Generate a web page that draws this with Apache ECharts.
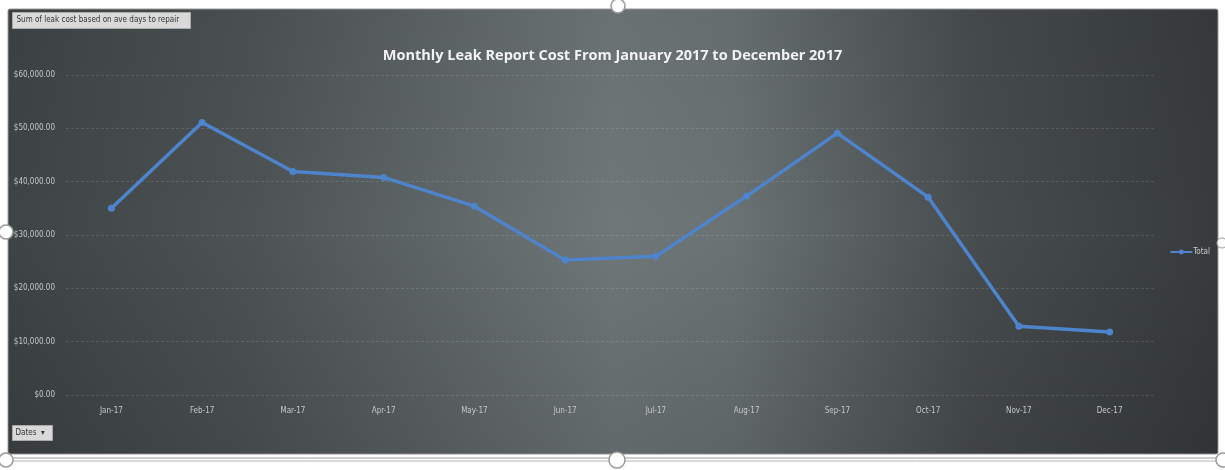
<!DOCTYPE html>
<html>
<head>
<meta charset="utf-8">
<script src="https://cdn.jsdelivr.net/npm/echarts@6/dist/echarts.min.js"></script>
<style>
html,body{margin:0;padding:0;background:#fff;}
#chart{width:1225px;height:470px;}
</style>
</head>
<body>
<div id="chart"></div>
<script>
const categories = ['Jan-17','Feb-17','Mar-17','Apr-17','May-17','Jun-17','Jul-17','Aug-17','Sep-17','Oct-17','Nov-17','Dec-17'];
const totals = [35000, 51100, 41900, 40800, 35400, 25300, 26000, 37300, 49100, 37100, 12900, 11800];
const yTicks = [0, 10000, 20000, 30000, 40000, 50000, 60000];

const chart = echarts.init(document.getElementById('chart'));
const labelFont = '"Liberation Sans Narrow","DejaVu Sans Condensed","Liberation Sans",sans-serif';

function fmt(v){
  return '$' + v.toLocaleString('en-US',{minimumFractionDigits:2,maximumFractionDigits:2});
}

chart.setOption({
  backgroundColor: '#ffffff',
  animation: false,
  title: {
    text: 'Monthly Leak Report Cost From January 2017 to December 2017',
    left: 'center',
    top: 43,
    textStyle: { color: '#f2f2f2', fontSize: 14.5, fontWeight: 'bold', fontFamily: '"Open Sans",sans-serif' }
  },
  legend: {
    data: ['Total'],
    right: 10,
    top: 243,
    itemWidth: 22,
    itemHeight: 6,
    itemGap: 2,
    textStyle: { color: '#c8cccd', fontSize: 8, fontFamily: labelFont, padding: [0,0,0,-4] }
  },
  grid: { left: 66, right: 70, top: 75, bottom: 75 },
  xAxis: {
    type: 'category',
    data: categories,
    boundaryGap: true,
    axisLine: { show: false },
    axisTick: { show: false },
    axisLabel: { color: '#c4c8c9', fontSize: 8, fontFamily: labelFont, margin: 12 }
  },
  yAxis: {
    type: 'value',
    min: yTicks[0],
    max: yTicks[yTicks.length-1],
    interval: 10000,
    axisLine: { show: false },
    axisTick: { show: false },
    axisLabel: { color: '#c4c8c9', fontSize: 8, fontFamily: labelFont, margin: 11, formatter: fmt },
    splitLine: { lineStyle: { color: 'rgba(255,255,255,0.12)', width: 1, type: [3, 2] } }
  },
  series: [{
    name: 'Total',
    type: 'line',
    data: totals,
    symbol: 'circle',
    symbolSize: 7,
    lineStyle: { color: '#4d84cc', width: 3.5 },
    itemStyle: { color: '#4d84cc' }
  }],
  graphic: [
    {
      type: 'rect', silent: true, z: -100,
      shape: { x: 8, y: 9, width: 1210, height: 445, r: 2 },
      style: {
        fill: new echarts.graphic.LinearGradient(0, 0, 1, 0, [
          { offset: 0, color: '#3e4345' },
          { offset: 0.2, color: '#4d5355' },
          { offset: 0.5, color: '#6f7779' },
          { offset: 0.6, color: '#6a7274' },
          { offset: 0.8, color: '#474c4e' },
          { offset: 1, color: '#373b3d' }
        ]),
        stroke: '#9a9a9a', lineWidth: 1
      }
    },
    {
      type: 'rect', silent: true, z: -50,
      shape: { x: 8, y: 9, width: 1210, height: 445 },
      style: {
        fill: new echarts.graphic.LinearGradient(0, 0, 0, 1, [
          { offset: 0, color: 'rgba(0,0,0,0.05)' },
          { offset: 0.5, color: 'rgba(0,0,0,0)' },
          { offset: 1, color: 'rgba(0,0,0,0.12)' }
        ])
      }
    },
    {
      type: 'group', left: 12, top: 12,
      children: [
        { type: 'rect', shape: { x: 0, y: 0, width: 178, height: 16 }, style: { fill: '#d9d9d9', stroke: '#aaaaaa', lineWidth: 1 } },
        { type: 'text', x: 4, y: 3, style: { text: 'Sum of leak cost based on ave days to repair', fill: '#333', font: '8px ' + labelFont } }
      ]
    },
    {
      type: 'group', left: 12, top: 425,
      children: [
        { type: 'rect', shape: { x: 0, y: 0, width: 40, height: 15 }, style: { fill: '#d9d9d9', stroke: '#aaaaaa', lineWidth: 1 } },
        { type: 'text', x: 3, y: 3, style: { text: 'Dates  \u25BE', fill: '#333', font: '8px ' + labelFont } }
      ]
    },
    { type: 'line', silent: true, shape: { x1: 8, y1: 458, x2: 1218, y2: 458 }, style: { stroke: '#9a9a9a', lineWidth: 1 } },
    { type: 'line', silent: true, shape: { x1: 8, y1: 461, x2: 1218, y2: 461 }, style: { stroke: '#b5b5b5', lineWidth: 1 } },
    { type: 'circle', silent: true, z: 10, shape: { cx: 618, cy: 6, r: 7 }, style: { fill: '#ffffff', stroke: '#999', lineWidth: 1.5 } },
    { type: 'circle', silent: true, z: 10, shape: { cx: 6, cy: 232, r: 7 }, style: { fill: '#ffffff', stroke: '#999', lineWidth: 1.5 } },
    { type: 'circle', silent: true, z: 10, shape: { cx: 6, cy: 460, r: 7 }, style: { fill: '#ffffff', stroke: '#999', lineWidth: 1.5 } },
    { type: 'circle', silent: true, z: 10, shape: { cx: 617, cy: 460, r: 8 }, style: { fill: '#ffffff', stroke: '#999', lineWidth: 1.5 } },
    { type: 'circle', silent: true, z: 10, shape: { cx: 1223, cy: 460, r: 7 }, style: { fill: '#ffffff', stroke: '#999', lineWidth: 1.5 } },
    { type: 'circle', silent: true, z: 10, shape: { cx: 1222, cy: 243, r: 5 }, style: { fill: '#ffffff', stroke: '#999', lineWidth: 1 } }
  ]
});
</script>
</body>
</html>
